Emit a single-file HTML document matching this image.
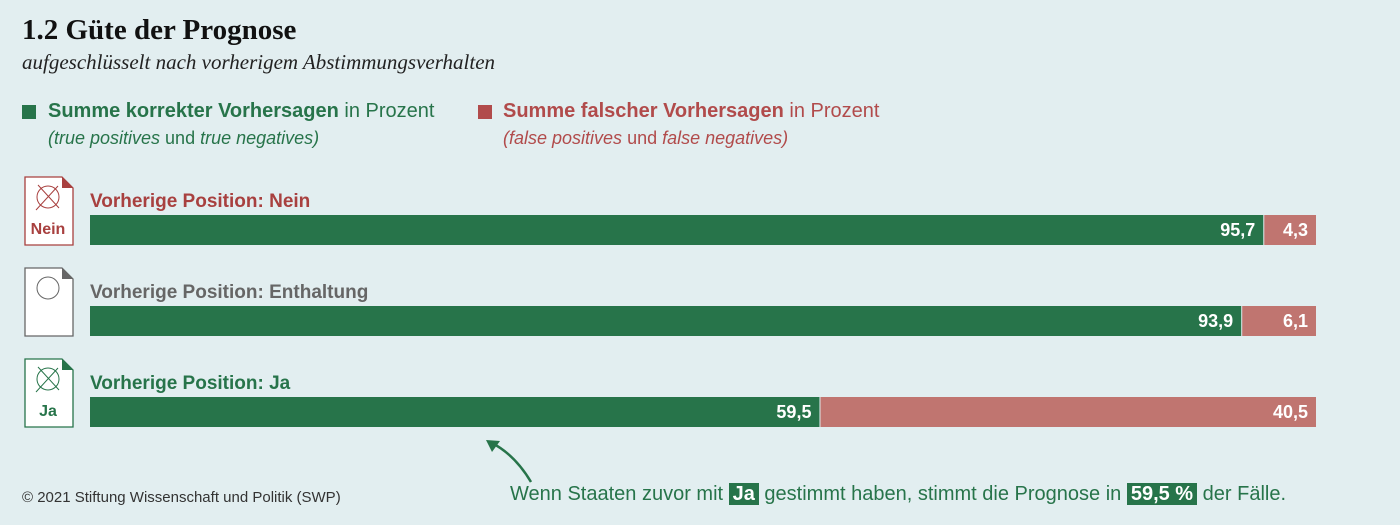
<!DOCTYPE html>
<html><head><meta charset="utf-8"><style>
body{margin:0;width:1400px;height:525px;background:#e2eef0;font-family:"Liberation Sans",sans-serif;overflow:hidden;position:relative}
.t{position:absolute;white-space:nowrap}
</style></head><body>
<div class="t" style="left:22px;top:14px;font:bold 29px 'Liberation Serif',serif;color:#111">1.2 Güte der Prognose</div>
<div class="t" style="left:22px;top:50px;font:italic 21px 'Liberation Serif',serif;color:#222">aufgeschlüsselt nach vorherigem Abstimmungsverhalten</div>
<div>
<div class="t" style="left:22px;top:105px;width:14px;height:14px;background:#27744a"></div>
<div class="t" style="left:48px;top:100px;font-size:20px;color:#27744a"><b>Summe korrekter Vorhersagen</b> in Prozent</div>
<div class="t" style="left:48px;top:128px;font-size:18px;color:#27744a"><i>(true positives</i> und <i>true negatives)</i></div></div>
<div>
<div class="t" style="left:478px;top:105px;width:14px;height:14px;background:#b14b4b"></div>
<div class="t" style="left:503px;top:100px;font-size:20px;color:#b14b4b"><b>Summe falscher Vorhersagen</b> in Prozent</div>
<div class="t" style="left:503px;top:128px;font-size:18px;color:#b14b4b"><i>(false positives</i> und <i>false negatives)</i></div></div>
<svg id="c" width="1400" height="525" style="position:absolute;left:0;top:0"></svg>
<div class="t" style="left:22px;top:489px;font-size:15px;color:#333">© 2021 Stiftung Wissenschaft und Politik (SWP)</div>
<div class="t" style="left:510px;top:483px;font-size:20px;color:#27744a">Wenn Staaten zuvor mit <span style="background:#27744a;color:#fff;font-weight:bold;padding:0 4px">Ja</span> gestimmt haben, stimmt die Prognose in <span style="background:#27744a;color:#fff;font-weight:bold;padding:0 4px">59,5 %</span> der Fälle.</div>
<script>
const categories=["Vorherige Position: Nein","Vorherige Position: Enthaltung","Vorherige Position: Ja"];
const correct=[95.7,93.9,59.5];
const wrong=[4.3,6.1,40.5];
const labelColors=["#a8403f","#666","#27744a"];
const iconText=["Nein","","Ja"];
const svg=document.getElementById('c');const NS="http://www.w3.org/2000/svg";
const x0=90,W=1226;const xs=v=>v/100*W;
const rowY=i=>215+i*91;
function mk(t,a){const e=document.createElementNS(NS,t);for(const k in a)e.setAttribute(k,a[k]);svg.appendChild(e);return e;}
const fmt=v=>v.toFixed(1).replace('.',',');
categories.forEach((c,i)=>{const y=rowY(i);const col=labelColors[i];
const g=mk('g',{});
let e=mk('text',{x:90,y:y-8,'font-size':19,'font-weight':'bold',fill:col});e.textContent=c;

const iy=y-38;
e=mk('path',{d:`M25 ${iy} H62 L73 ${iy+11} V${iy+68} H25 Z`,fill:'#fff',stroke:col,'stroke-width':1.3});

mk('path',{d:`M62 ${iy} L73 ${iy+11} H62Z`,fill:col});
mk('circle',{cx:48,cy:iy+20,r:11,fill:'none',stroke:col,'stroke-width':1});
if(iconText[i]){mk('path',{d:`M38 ${iy+8}L59 ${iy+31}M58 ${iy+9}L36 ${iy+33}`,stroke:col,'stroke-width':1});
e=mk('text',{x:48,y:iy+57,'font-size':16,'font-weight':'bold',fill:col,'text-anchor':'middle'});e.textContent=iconText[i];}
const w1=xs(correct[i]),w2=xs(wrong[i]);
e=mk('rect',{x:x0,y:y,width:w1,height:30,fill:'#27744a'});

e=mk('rect',{x:x0+w1+1,y:y,width:w2-1,height:30,fill:'#c07570'});

e=mk('text',{x:x0+w1-8,y:y+21,'font-size':18,'font-weight':'bold',fill:'#fff','text-anchor':'end'});e.textContent=fmt(correct[i]);
e=mk('text',{x:x0+w1+w2-8,y:y+21,'font-size':18,'font-weight':'bold',fill:'#fff','text-anchor':'end'});e.textContent=fmt(wrong[i]);
});
let a=mk('path',{d:'M531 482 Q515 455 492 443',fill:'none',stroke:'#27744a','stroke-width':2.5});

mk('path',{d:'M486 440 L500 441 L492 452Z',fill:'#27744a'});
</script>
</body></html>
